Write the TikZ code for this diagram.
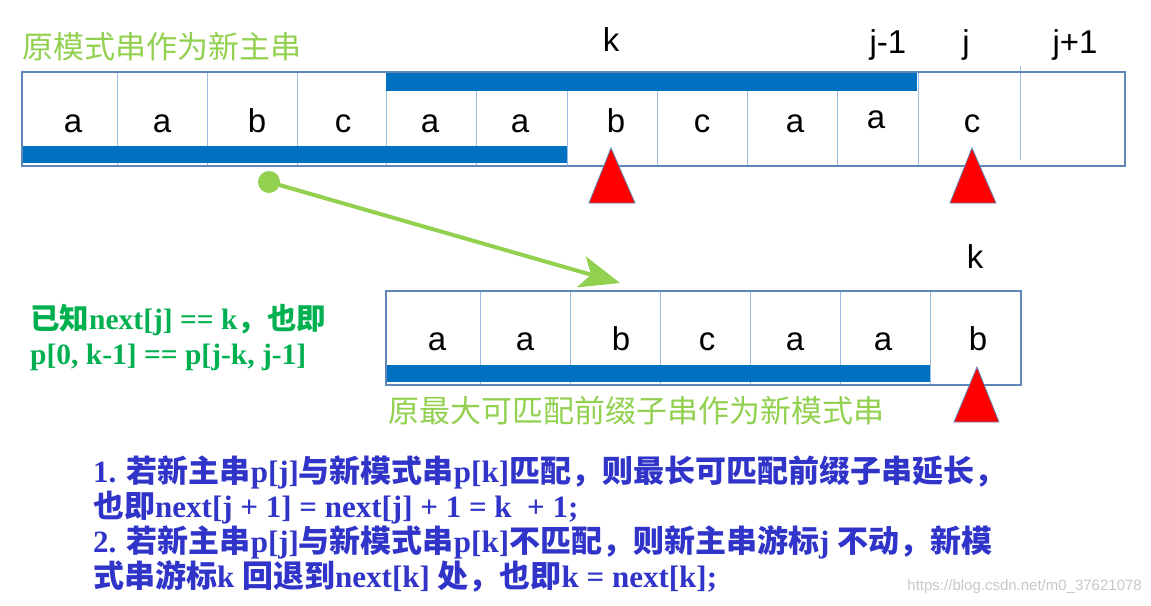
\documentclass[tikz,border=0pt]{standalone}
\usepackage{fontspec}
\setmainfont{Liberation Serif}
\setsansfont{Liberation Sans}
\newfontfamily\zhfont{Noto Sans CJK SC}
\newcommand\cn[1]{{\zhfont #1}}
\usetikzlibrary{arrows.meta}
\definecolor{edgeblue}{RGB}{95,135,185}
\definecolor{cellblue}{RGB}{155,190,228}
\definecolor{barblue}{RGB}{0,112,192}
\definecolor{lightgreen}{RGB}{146,208,80}
\definecolor{deepgreen}{RGB}{0,176,80}
\definecolor{noteblue}{RGB}{48,52,200}
\tikzset{
  letter/.style={font=\sffamily\fontsize{33}{33}\selectfont, inner sep=0pt, anchor=base},
  bar/.style={fill=barblue},
  pointer/.style={fill=red, draw=edgeblue, line width=0.8pt},
  title/.style={font=\zhfont\fontsize{31}{31}\selectfont, text=lightgreen, inner sep=0pt, anchor=west},
}
\begin{document}
\begin{tikzpicture}[x=1pt,y=-1pt]
\useasboundingbox (0,0) rectangle (1151,605);

% main string
\node[title] (maintitle) at (22,47) {原模式串作为新主串};
\draw[cellblue, line width=1pt] (117,72) -- (117,166) (207,72) -- (207,166) (297,72) -- (297,166)
  (386,72) -- (386,166) (476,72) -- (476,166) (567,72) -- (567,166) (657,72) -- (657,166)
  (747,72) -- (747,166) (837,72) -- (837,166) (918,72) -- (918,166) (1020,66) -- (1020,160);
\fill[bar] (386,72) rectangle (917,91);
\fill[bar] (22,146) rectangle (567,163);
\draw[edgeblue, line width=1.5pt] (22,72) rectangle (1125,166);

\node[letter] (m0) at (73,132) {a};
\node[letter] (m1) at (162,132) {a};
\node[letter] (m2) at (257,132) {b};
\node[letter] (m3) at (343,132) {c};
\node[letter] (m4) at (430,132) {a};
\node[letter] (m5) at (520,132) {a};
\node[letter] (m6) at (616,132) {b};
\node[letter] (m7) at (702,132) {c};
\node[letter] (m8) at (795,132) {a};
\node[letter] (m9) at (876,128) {a};
\node[letter] (m10) at (972,132) {c};

\node[letter] (topk) at (611,51) {k};
\node[letter] (topj1) at (888,53) {j-1};
\node[letter] (topj) at (966,53) {j};
\node[letter] (topjp) at (1075,53) {j+1};

\draw[pointer] (611,148) -- (589,203) -- (635,203) -- cycle;
\draw[pointer] (972,148) -- (950,203) -- (996,203) -- cycle;

% pattern string
\draw[cellblue, line width=1pt] (480,291) -- (480,385) (570,291) -- (570,385) (660,291) -- (660,385)
  (750,291) -- (750,385) (840,291) -- (840,385) (930,291) -- (930,385);
\fill[bar] (386,365) rectangle (930,382);
\draw[edgeblue, line width=1.5pt] (386,291) rectangle (1021,385);

\node[letter] (p0) at (437,350) {a};
\node[letter] (p1) at (525,350) {a};
\node[letter] (p2) at (621,350) {b};
\node[letter] (p3) at (707,350) {c};
\node[letter] (p4) at (795,350) {a};
\node[letter] (p5) at (883,350) {a};
\node[letter] (p6) at (978,350) {b};
\node[letter] (lowk) at (975,268) {k};
\draw[pointer] (977,367) -- (954,422) -- (999,422) -- cycle;
\node[title] (pattitle) at (388,411) {原最大可匹配前缀子串作为新模式串};

% arrow from main to pattern
\node[circle, fill=lightgreen, inner sep=0pt, minimum size=22pt] (dot) at (269,182) {};
\coordinate (tip) at (620,283);
\draw[lightgreen, line width=4pt, -{Stealth[length=40pt, width=32pt, inset=10pt]}] (dot.center) -- (tip);

% notes
\node[font=\bfseries\fontsize{29.5}{35}\selectfont, text=deepgreen, align=left, anchor=west, inner sep=0pt] (known) at (30,338)
  {\cn{已知}next[j] == k\cn{，也即}\\p[0, k-1] == p[j-k, j-1]};
\node[font=\bfseries\fontsize{31}{35}\selectfont, text=noteblue, align=left, anchor=west, inner sep=0pt] (steps) at (93,524)
  {1. \cn{若新主串}p[j]\cn{与新模式串}p[k]\cn{匹配，则最长可匹配前缀子串延长，}\\
   \cn{也即}next[j + 1] = next[j] + 1 = k \ + 1;\\
   2. \cn{若新主串}p[j]\cn{与新模式串}p[k]\cn{不匹配，则新主串游标}j \cn{不动，新模}\\
   \cn{式串游标}k \cn{回退到}next[k] \cn{处，也即}k = next[k];};
\node[font=\sffamily\fontsize{15}{15}\selectfont, text=black!22, anchor=east, inner sep=0pt] (mark) at (1142,587)
  {https://blog.csdn.net/m0\_37621078};
\end{tikzpicture}
\end{document}
